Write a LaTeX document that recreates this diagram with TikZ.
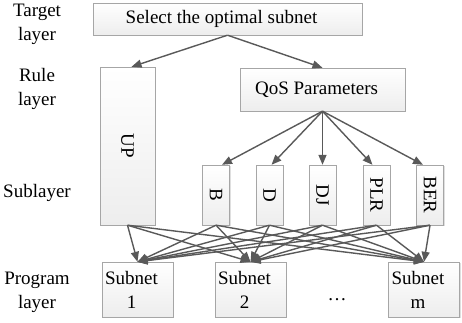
\documentclass[tikz,border=0pt]{standalone}
\usepackage{fontspec}
\setmainfont{Liberation Serif}
\usetikzlibrary{positioning, arrows.meta, shadows}
\tikzset{
    box/.style={draw=gray!70, top color=white, bottom color=gray!14, inner sep=0pt, align=center,
      drop shadow={shadow xshift=1.2pt, shadow yshift=-1.2pt, opacity=.25}},
    subbox/.style={box, minimum width=27pt, minimum height=60pt},
    netbox/.style={box, minimum width=71pt, minimum height=55pt},
    layer/.style={align=center},
    vtext/.style={label={[rotate=-90]center:#1}},
    htext/.style={label={[xshift=-6pt, align=center]center:#1}},
}

\begin{document}
\begin{tikzpicture}[x=1pt, y=-1pt]
    \tikzset{
      font=\fontsize{19}{24}\selectfont,
      link/.style={draw=black!65, line width=1.4pt, -{Triangle[length=10pt, width=8pt]}}
    }
    \useasboundingbox (0,0) rectangle (462,323);

    % layer names
    \node[layer] (target) at (37,24) {Target\\layer};
    \node[layer] (rule) at (37,89) {Rule\\layer};
    \node[layer] (sub) at (37,193) {Sublayer};
    \node[layer] (prog) at (37,292) {Program\\layer};

    % boxes
    \node[box, minimum width=269pt, minimum height=32pt, htext=Select the optimal subnet] (goal) at (227.5,19) {};
    \node[box, minimum width=55pt, minimum height=158pt, vtext=UP] (up) at (127.5,146) {};
    \node[box, minimum width=165pt, minimum height=43pt, htext=QoS Parameters] (qos) at (322.5,89.5) {};
    \foreach \n/\t/\x in {b/B/216, d/D/269.5, dj/DJ/322.5, plr/PLR/376.5, ber/BER/430}
      \node[subbox, vtext=\t] (\n) at (\x,195) {};
    \node[netbox, htext={Subnet\\1}] (s1) at (137.5,289.5) {};
    \node[netbox, htext={Subnet\\2}] (s2) at (250.5,289.5) {};
    \node[netbox, htext={Subnet\\m}] (sm) at (424,289.5) {};
    \node (dots) at (337,300) {\dots};

    % arrows
    \draw[link] (goal.south) -- ([xshift=4pt]up.north);
    \draw[link] (goal.south) -- (qos.north);
    \foreach \n/\s in {b/6, d/2, dj/0, plr/-4, ber/-7}
      \draw[link] (qos.south) -- ([xshift=\s pt]\n.north);
    \foreach \n in {up,b,d,dj,plr,ber}
      \foreach \m in {s1,s2,sm}
        \draw[link] (\n.south) -- (\m.north);
\end{tikzpicture}
\end{document}
